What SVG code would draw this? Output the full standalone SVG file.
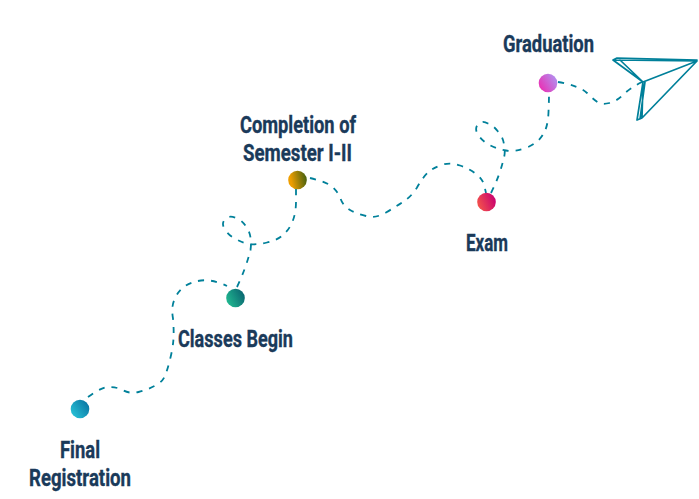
<svg xmlns="http://www.w3.org/2000/svg" width="699" height="499" viewBox="0 0 699 499">
<style>
.l{font-family:"Roboto","Liberation Sans",sans-serif;font-weight:700;font-size:23px;fill:#1a3a5a;stroke:#1a3a5a;stroke-width:0.35}
.d{fill:none;stroke:#00809a;stroke-width:1.8;stroke-dasharray:6 7}
.p{fill:none;stroke:#00809a;stroke-width:1.7;stroke-linejoin:round;stroke-linecap:round}
</style>
<defs>
<linearGradient id="g1" x1="0" y1="1" x2="1" y2="0.3"><stop offset="0" stop-color="#2ccbdc"/><stop offset="1" stop-color="#0a78a5"/></linearGradient>
<linearGradient id="g2" x1="0" y1="0.8" x2="1" y2="0.3"><stop offset="0" stop-color="#22bd92"/><stop offset="1" stop-color="#0a6570"/></linearGradient>
<linearGradient id="g3" x1="0" y1="0.6" x2="1" y2="0.4"><stop offset="0.15" stop-color="#ee9e00"/><stop offset="1" stop-color="#46600f"/></linearGradient>
<linearGradient id="g4" x1="0" y1="0.7" x2="1" y2="0.3"><stop offset="0" stop-color="#f5554a"/><stop offset="1" stop-color="#c80070"/></linearGradient>
<linearGradient id="g5" x1="0" y1="0.8" x2="1" y2="0.2"><stop offset="0.1" stop-color="#e636b8"/><stop offset="1" stop-color="#b094f2"/></linearGradient>
</defs>
<g id="connectors">
<path class="d" d="M88 397Q103 386 110 387Q117 387 123.500 390.500Q130 394 138.500 392Q147 390 154.500 386Q163 382 165.500 374.500Q168 368 170.500 357.500Q173 347 173.500 338.500Q174 330 173 318.500Q171 307 174.500 299.500Q178 291 184 287Q190 282 201 280.500Q212 279 227 286"/>
<path class="d" d="M237 287Q246 268 250.500 250Q251.500 243 250.500 237.500Q249.500 231 246 226.500Q242 220 236 218Q229 215 225.500 219Q221 223 224.500 228.500Q228 235 235 238.500Q242 243 249.500 244Q257 245 267 242.500Q278 240 283.500 234.500Q289 230 292.500 221.500Q296 213 296 201.500Q296 195 296 188"/>
<path class="d" d="M310 178Q327 182 332.500 187Q338 192 340.500 198.500Q343 206 350 210Q357 214 366 216Q375 219 386 212.500Q397 206 403.500 201.500Q411 197 417 187.500Q423 177 428 172.500Q433 168 441.500 165Q450 162 460 165.500Q470 169 476 174Q483 179 484.500 186.500L486 193"/>
<path class="d" d="M491 193Q500 175 504 157.500Q505.500 152 504 144.500Q503 137 498 131.500Q493 125 488 123.500Q482 120 478.500 124Q474 128 478 134.500Q482 141 489.500 145Q497 149 506 150.500Q516 152 527 147.500Q538 143 543 134.500Q548 127 548.500 112Q549 100 549 95"/>
<path class="d" d="M558 82Q580 86 587 93Q593 99 597.500 102Q602 105 609.500 103Q617 101 623.500 94.500Q630 88 642 82"/>
</g>
<g id="plane">
<path class="p" d="M613 60L697 61L643 82L613 60L617 58L697 60M620 60L643 82L697 61L642 118L637 120L643 82L642 118M645 82L640 119"/>
</g>
<g id="final-registration">
<circle cx="80" cy="409" r="9.300" fill="url(#g1)"/>
<text class="l" x="80" y="458" text-anchor="middle" textLength="40" lengthAdjust="spacingAndGlyphs">Final</text>
<text class="l" x="80" y="486" text-anchor="middle" textLength="102" lengthAdjust="spacingAndGlyphs">Registration</text>
</g>
<g id="classes-begin">
<circle cx="235.500" cy="298" r="9.300" fill="url(#g2)"/>
<text class="l" x="235.500" y="347" text-anchor="middle" textLength="115" lengthAdjust="spacingAndGlyphs">Classes Begin</text>
</g>
<g id="completion">
<circle cx="297.500" cy="180" r="9.300" fill="url(#g3)"/>
<text class="l" x="298" y="133" text-anchor="middle" textLength="116" lengthAdjust="spacingAndGlyphs">Completion of</text>
<text class="l" x="297.500" y="161" text-anchor="middle" textLength="109" lengthAdjust="spacingAndGlyphs">Semester I-II</text>
</g>
<g id="exam">
<circle cx="486.500" cy="202" r="9.300" fill="url(#g4)"/>
<text class="l" x="487" y="251" text-anchor="middle" textLength="42" lengthAdjust="spacingAndGlyphs">Exam</text>
</g>
<g id="graduation">
<circle cx="548" cy="83" r="9.300" fill="url(#g5)"/>
<text class="l" x="548.500" y="52" text-anchor="middle" textLength="91" lengthAdjust="spacingAndGlyphs">Graduation</text>
</g>
</svg>
